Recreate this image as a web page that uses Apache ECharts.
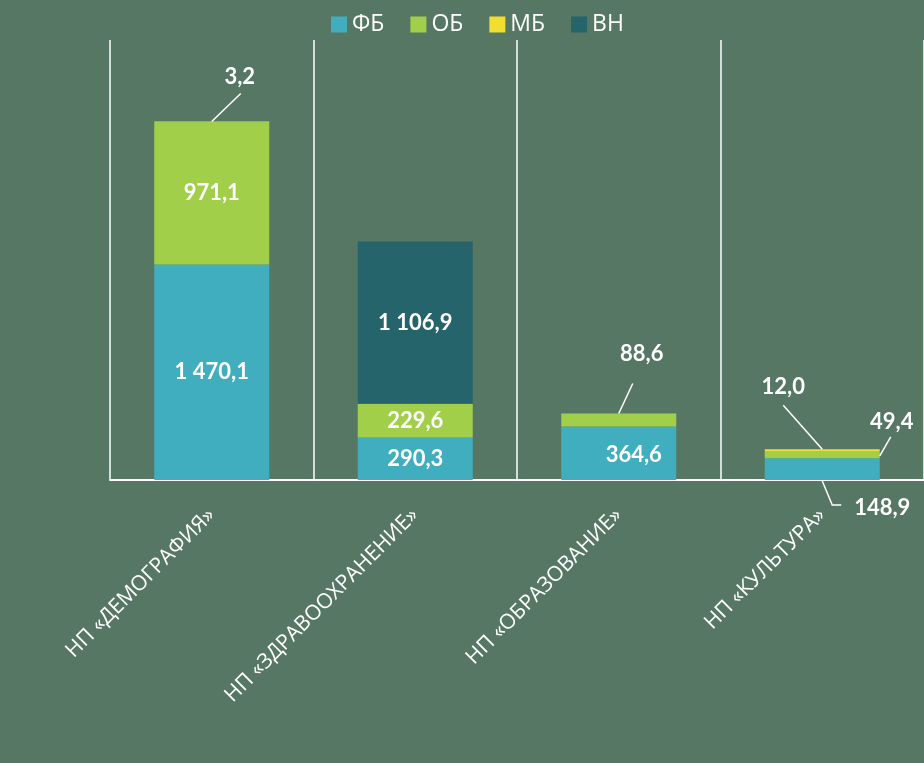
<!DOCTYPE html>
<html>
<head>
<meta charset="utf-8">
<script src="https://cdn.jsdelivr.net/npm/echarts@6/dist/echarts.min.js"></script>
<style>
  html, body { margin: 0; padding: 0; background: #567763; }
  #main { width: 924px; height: 763px; }
</style>
</head>
<body>
<div id="main"></div>
<script>
// категории и значения
var categories = ["НП «ДЕМОГРАФИЯ»", "НП «ЗДРАВООХРАНЕНИЕ»", "НП «ОБРАЗОВАНИЕ»", "НП «КУЛЬТУРА»"];
var seriesNames = ["ФБ", "ОБ", "МБ", "ВН"];
var fb = [1470.1, 290.3, 364.6, 148.9];
var ob = [971.1, 229.6, 88.6, 49.4];
var mb = [3.2, null, null, 12.0];
var vn = [null, 1106.9, null, null];

var colors = ["#40aebe", "#a2cf4a", "#f2de2f", "#26646c"];
var barW = 115;

// выносные подписи: точка привязки на столбике (доли), смещение подписи, точки линии-выноски
var outside = {
  0: { 3: { a: [0.5, 1], l: [60, 28], pts: [[0, 1], [10, 25], [19, 25]] } },
  1: {
    2: { a: [0.5, 0], l: [23, -60], pts: [[0, 0], [14, -30]] },
    3: { a: [1, 0], l: [12, -29], pts: [[0, 5], [11, -14]] }
  },
  2: {
    0: { a: [0.5, 0], l: [28, -45], pts: [[0, 0], [29, -28]] },
    3: { a: [0.5, 0], l: [-39, -62], pts: [[0, 0], [-39, -44]] }
  }
};
var inside = {
  0: { 2: [15, 2] }
};

function fmt(v) {
  var s = v.toFixed(1).split(".");
  var intPart = s[0].replace(/\B(?=(\d{3})+(?!\d))/g, " ");
  return intPart + "," + s[1];
}

function buildData(vals, si) {
  return vals.map(function (v, i) {
    if (v == null) return { value: null, label: { show: false } };
    var o = outside[si] && outside[si][i];
    if (o) return { value: v, label: { show: true, position: "top" } };
    return { value: v, label: { show: true, position: "inside" } };
  });
}

var allVals = [fb, ob, mb, vn];

var myChart = echarts.init(document.getElementById("main"));
myChart.setOption({
  backgroundColor: "#567763",
  animation: false,
  legend: {
    top: 8,
    left: 326,
    itemWidth: 16,
    itemHeight: 16,
    itemGap: 26,
    icon: "rect",
    textStyle: { color: "#fff", fontSize: 23, fontFamily: "Open Sans" },
    data: seriesNames
  },
  grid: { left: 110, right: -6, top: 40, bottom: 283 },
  xAxis: {
    type: "category",
    data: categories,
    axisLine: { lineStyle: { color: "#fff", width: 2 } },
    axisTick: { show: false },
    splitLine: { show: true, interval: 0, lineStyle: { color: "#fff", width: 1.5 } },
    axisLabel: {
      interval: 0,
      rotate: 45,
      margin: 32,
      color: "#fff",
      fontSize: 21,
      fontFamily: "Open Sans"
    }
  },
  yAxis: { type: "value", min: 0, max: 3000, show: false, splitLine: { show: false } },
  series: allVals.map(function (vals, si) {
    return {
      name: seriesNames[si],
      type: "bar",
      stack: "total",
      barWidth: barW,
      itemStyle: { color: colors[si] },
      label: {
        color: "#fff",
        fontSize: 22,
        fontWeight: "bold",
        fontFamily: "Lato",
        formatter: function (p) { return fmt(p.value); }
      },
      labelLayout: function (p) {
        var o = outside[si] && outside[si][p.dataIndex];
        if (o) {
          var r = p.rect;
          var ax = r.x + r.width * o.a[0];
          var ay = r.y + r.height * o.a[1];
          return { x: ax + o.l[0], y: ay + o.l[1], align: "center", verticalAlign: "middle" };
        }
        var n = inside[si] && inside[si][p.dataIndex];
        if (n) return { dx: n[0], dy: n[1] };
        return {};
      },
      data: buildData(vals, si)
    };
  })
});

// линии-выноски строим через шкалы графика
var leaders = [];
Object.keys(outside).forEach(function (si) {
  Object.keys(outside[si]).forEach(function (ci) {
    var o = outside[si][ci];
    var below = 0;
    for (var k = 0; k < +si; k++) below += allVals[k][ci] || 0;
    var top = below + allVals[si][ci];
    var pTop = myChart.convertToPixel({ gridIndex: 0 }, [+ci, top]);
    var pBot = myChart.convertToPixel({ gridIndex: 0 }, [+ci, below]);
    var ax = pTop[0] + (o.a[0] - 0.5) * barW;
    var ay = pTop[1] + (pBot[1] - pTop[1]) * o.a[1];
    leaders.push({
      type: "polyline",
      shape: { points: o.pts.map(function (q) { return [ax + q[0], ay + q[1]]; }) },
      style: { stroke: "#fff", lineWidth: 1.5, fill: null },
      z: 10
    });
  });
});
myChart.setOption({ graphic: leaders });
</script>
</body>
</html>
